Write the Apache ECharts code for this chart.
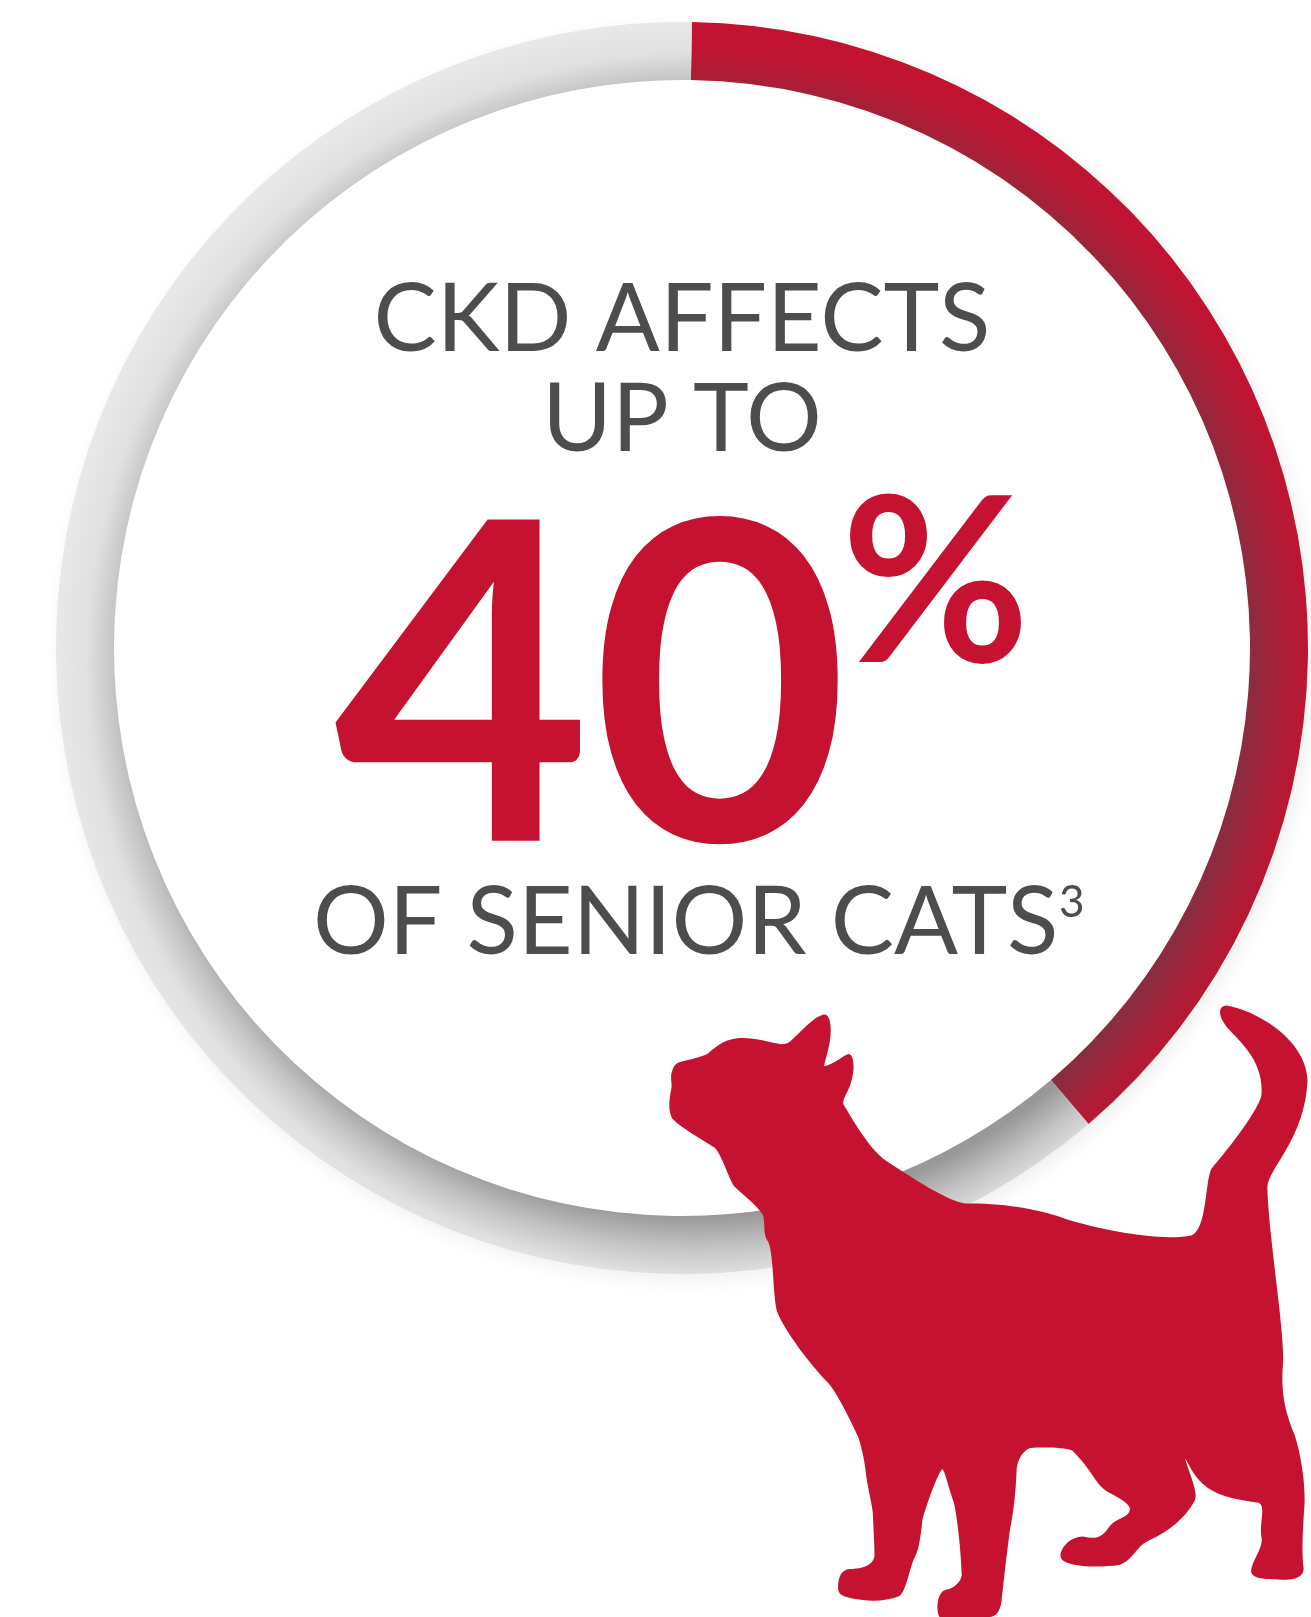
<!DOCTYPE html>
<html><head><meta charset="utf-8">
<style>html,body{margin:0;padding:0;background:#fff}#c{width:1311px;height:1617px}</style>
<script src="https://cdn.jsdelivr.net/npm/echarts@6/dist/echarts.min.js"></script>
</head><body><div id="c"></div>
<script>
const categories = ['Senior cats with CKD', 'Other senior cats'];
const shareValues = [38.5, 61.5];
const headlineLines = ['CKD AFFECTS', 'UP TO'];
const bigNumber = '40';
const bigUnit = '%';
const footerLine = 'OF SENIOR CATS';
const footnoteMark = '3';

const cx = 682, cy = 648, outerR = 626, innerR = 568, shift = 16;
const RED = '#c41230', TEXT = '#4d4d4d';
const gradR = 641;
function ringGradient(colors) {
  const radii = [552, 584, 611, 641];
  return { type: 'radial', x: cx + shift, y: cy + shift, r: gradR, global: true,
    colorStops: [{offset: 0, color: colors[0]}].concat(radii.map((d, i) => ({offset: d / gradR, color: colors[i]}))) };
}
const catPath = 'M75 225C78 212 84 206 90 203C110 196 145 190 160 180C175 168 195 143 240 143C270 143 310 155 330 158C340 158 345 156 350 152C375 130 405 90 430 85C445 84 447 115 445 140C442 170 433 195 430 212C450 210 475 185 488 182C500 184 501 215 497 235C490 275 475 285 475 305C490 330 530 410 575 445C640 490 720 545 760 550C850 548 940 565 1000 590C1080 615 1220 645 1290 628C1325 610 1320 500 1335 465C1380 410 1445 320 1452 285C1460 200 1400 150 1375 120C1350 90 1350 65 1370 63C1430 72 1555 140 1560 245C1555 390 1470 460 1466 510C1470 640 1505 850 1503 940C1495 1030 1515 1080 1530 1120C1545 1170 1555 1240 1553 1290C1550 1340 1545 1400 1551 1450C1550 1470 1530 1478 1500 1476C1460 1475 1430 1475 1428 1455C1430 1430 1455 1400 1453 1375C1445 1340 1465 1295 1445 1287C1390 1278 1345 1270 1315 1240C1290 1215 1285 1195 1274 1178C1280 1205 1305 1260 1297 1280C1270 1335 1220 1365 1185 1382C1160 1395 1150 1430 1120 1440C1070 1447 1000 1445 985 1425C975 1410 1000 1370 1035 1370C1060 1375 1075 1378 1095 1348C1115 1320 1145 1325 1145 1300C1140 1285 1110 1270 1090 1258C1060 1235 1060 1210 1010 1158C990 1150 940 1150 912 1152C890 1160 880 1190 880 1210C878 1270 870 1330 865 1350C855 1430 848 1500 845 1530C840 1560 830 1568 815 1568L700 1568C690 1550 695 1505 715 1501C735 1497 750 1480 752 1465C750 1400 740 1310 733 1285C720 1245 712 1205 706 1204C695 1215 665 1305 660 1330C655 1380 650 1410 640 1425C630 1450 620 1510 605 1517C580 1528 545 1530 520 1526C480 1520 465 1515 463 1500C462 1470 470 1452 490 1450C520 1450 548 1440 548 1415C548 1390 545 1340 544 1310C540 1280 530 1240 528 1215C525 1180 515 1140 510 1125C495 1090 460 1015 440 992C400 950 335 860 320 815C310 770 313 680 300 645C285 625 295 590 285 575C270 550 230 520 218 505C205 480 190 430 175 413C150 395 90 360 75 340C62 315 72 280 74 260C72 240 72 232 75 225Z';

function txt(text, x, baseline, size, weight, color, align) {
  return { type: 'text', z: 10, style: {
    text, x, y: baseline - size * 0.33, fill: color, textAlign: align || 'center', textVerticalAlign: 'middle',
    font: weight + ' ' + size + 'px Lato' } };
}
const chart = echarts.init(document.getElementById('c'), null, {renderer: 'canvas'});
chart.setOption({
  backgroundColor: '#fff', animation: false,
  series: [{
    type: 'pie', silent: true, z: 2, center: [cx, cy], radius: [innerR, outerR], startAngle: 89.1, clockwise: true,
    label: {show: false}, labelLine: {show: false}, emphasis: {disabled: true},
    data: categories.map((name, i) => ({ name, value: shareValues[i],
      itemStyle: { color: i === 0 ? ringGradient(['#8b2c40', '#aa1e37', '#be1532', RED]) : ringGradient(['#989898', '#c4c4c4', '#e0e0e0', '#e8e8e8']) } }))
  }, {
    type: 'custom', coordinateSystem: 'none', silent: true, z: 20, data: [0],
    renderItem: () => ({ type: 'path', x: 640, y: 980, scaleX: 1 / 2.337, scaleY: 1 / 2.4615,
      shape: {pathData: catPath}, style: {fill: RED} })
  }],
  graphic: { elements: [
    { type: 'circle', z: 0, silent: true, shape: {cx, cy, r: outerR - 1}, style: {fill: '#fff', shadowBlur: 20, shadowColor: 'rgba(0,0,0,0.07)', shadowOffsetX: 5, shadowOffsetY: 6} },
    txt(headlineLines[0], 682, 352, 94.7, 400, TEXT),
    txt(headlineLines[1], 682, 452, 94.7, 400, TEXT),
    txt(bigNumber, 591.3, 844, 444, 700, RED),
    txt(bigUnit, 935.5, 664, 230, 700, RED),
    txt(footerLine, 313, 955, 94.7, 400, TEXT, 'left'),
    txt(footnoteMark, 1059, 917, 44, 400, TEXT, 'left')
  ] }
});
</script></body></html>
